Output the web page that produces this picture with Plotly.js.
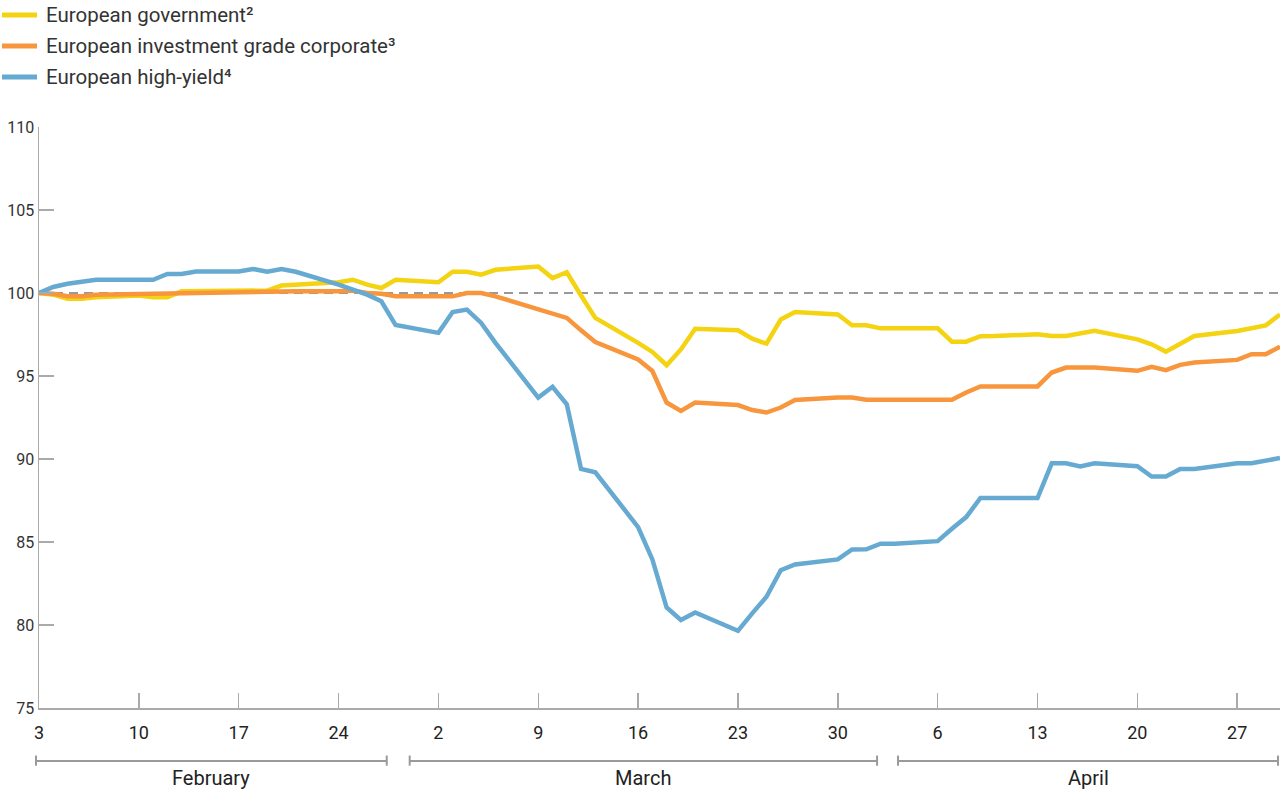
<!DOCTYPE html>
<html>
<head>
<meta charset="utf-8">
<script src="https://cdn.plot.ly/plotly-3.0.1.min.js"></script>
<style>
  html, body { margin: 0; padding: 0; background: #fff; }
  #chart { width: 1283px; height: 792px; }
</style>
</head>
<body>
<div id="chart"></div>
<script>
const dates = [
  '2020-02-03','2020-02-04','2020-02-05','2020-02-06','2020-02-07',
  '2020-02-10','2020-02-11','2020-02-12','2020-02-13','2020-02-14',
  '2020-02-17','2020-02-18','2020-02-19','2020-02-20','2020-02-21',
  '2020-02-24','2020-02-25','2020-02-26','2020-02-27','2020-02-28',
  '2020-03-02','2020-03-03','2020-03-04','2020-03-05','2020-03-06',
  '2020-03-09','2020-03-10','2020-03-11','2020-03-12','2020-03-13',
  '2020-03-16','2020-03-17','2020-03-18','2020-03-19','2020-03-20',
  '2020-03-23','2020-03-24','2020-03-25','2020-03-26','2020-03-27',
  '2020-03-30','2020-03-31','2020-04-01','2020-04-02','2020-04-03',
  '2020-04-06','2020-04-07','2020-04-08','2020-04-09','2020-04-10',
  '2020-04-13','2020-04-14','2020-04-15','2020-04-16','2020-04-17',
  '2020-04-20','2020-04-21','2020-04-22','2020-04-23','2020-04-24',
  '2020-04-27','2020-04-28','2020-04-29','2020-04-30'
];

const government = [
  100.0, 99.9, 99.65, 99.65, 99.75,
  99.85, 99.75, 99.75, 100.1, 100.1,
  100.15, 100.15, 100.15, 100.45, 100.5,
  100.65, 100.8, 100.5, 100.3, 100.8,
  100.65, 101.28, 101.28, 101.1, 101.4,
  101.6, 100.9, 101.25, 99.85, 98.5,
  97.0, 96.45, 95.65, 96.6, 97.85,
  97.75, 97.25, 96.95, 98.4, 98.85,
  98.7, 98.05, 98.05, 97.87, 97.87,
  97.87, 97.07, 97.07, 97.4, 97.41,
  97.51, 97.41, 97.41, 97.57, 97.72,
  97.21, 96.91, 96.47, 96.91, 97.41,
  97.71, 97.87, 98.05, 98.71
];

const investmentGrade = [
  100.0, 99.95, 99.8, 99.8, 99.9,
  99.95, 99.95, 99.97, 100.0, 100.0,
  100.1, 100.1, 100.1, 100.1, 100.1,
  100.1, 100.15, 100.0, 99.95, 99.8,
  99.8, 99.8, 100.0, 100.0, 99.8,
  99.0, 98.7, 98.5, 97.75, 97.05,
  96.0, 95.3, 93.4, 92.9, 93.4,
  93.25, 92.95, 92.8, 93.1, 93.55,
  93.7, 93.7, 93.57, 93.57, 93.57,
  93.57, 93.57, 94.01, 94.37, 94.37,
  94.37, 95.21, 95.51, 95.51, 95.51,
  95.31, 95.55, 95.35, 95.67, 95.81,
  95.97, 96.31, 96.31, 96.77
];

const highYield = [
  100.0, 100.36, 100.56, 100.68, 100.8,
  100.8, 100.8, 101.15, 101.15, 101.3,
  101.3, 101.45, 101.28, 101.45, 101.28,
  100.5, 100.2, 99.9, 99.5, 98.07,
  97.6, 98.85, 99.0, 98.2, 97.0,
  93.7, 94.35, 93.3, 89.4, 89.2,
  85.9, 83.95, 81.05, 80.3, 80.75,
  79.65, 80.7, 81.7, 83.3, 83.65,
  83.95, 84.55, 84.56, 84.9, 84.9,
  85.05, 85.8, 86.5, 87.65, 87.65,
  87.65, 89.74, 89.74, 89.55, 89.74,
  89.56, 88.94, 88.94, 89.4, 89.4,
  89.74, 89.74, 89.9, 90.06
];

const seriesNames = [
  'European government²',
  'European investment grade corporate³',
  'European high-yield⁴'
];
const seriesColors = ['#F3D312', '#F7963D', '#66AAD1'];

const xTickVals = ['2020-02-03','2020-02-10','2020-02-17','2020-02-24',
  '2020-03-02','2020-03-09','2020-03-16','2020-03-23','2020-03-30',
  '2020-04-06','2020-04-13','2020-04-20','2020-04-27'];
const xTickText = ['3','10','17','24','2','9','16','23','30','6','13','20','27'];

const yTickVals = [75, 80, 85, 90, 95, 100, 105, 110];
const yTickText = ['75','80','85','90','95','100','105','110'];

const months = ['February', 'March', 'April'];
const baseline = 100;

const seriesValues = [government, investmentGrade, highYield];
const traces = seriesValues.map((vals, i) => ({
  type: 'scatter',
  mode: 'lines',
  x: dates,
  y: vals,
  name: seriesNames[i],
  line: { color: seriesColors[i], width: 4.5 },
  hoverinfo: 'skip',
  showlegend: false
}));

// month brackets (paper coordinates)
const bracketSpans = [[-0.0024, 0.2802], [0.2987, 0.6753], [0.6922, 0.9984]];
const bracketY = -0.0912, bracketTop = -0.0819, bracketBot = -0.0993, labelY = -0.1205;
const gray = '#9a9a9a';

const shapes = [{
  type: 'line', xref: 'paper', yref: 'y', x0: 0, x1: 1, y0: baseline, y1: baseline,
  line: { color: '#999999', width: 2, dash: '9px,6px' }, layer: 'below'
}];
const annotations = [];
bracketSpans.forEach((s, i) => {
  shapes.push({ type: 'line', xref: 'paper', yref: 'paper', x0: s[0], x1: s[1], y0: bracketY, y1: bracketY, line: { color: gray, width: 2 } });
  shapes.push({ type: 'line', xref: 'paper', yref: 'paper', x0: s[0], x1: s[0], y0: bracketTop, y1: bracketBot, line: { color: gray, width: 2 } });
  shapes.push({ type: 'line', xref: 'paper', yref: 'paper', x0: s[1], x1: s[1], y0: bracketTop, y1: bracketBot, line: { color: gray, width: 2 } });
  annotations.push({
    xref: 'paper', yref: 'paper', x: (s[0] + s[1]) / 2, y: labelY,
    text: months[i], showarrow: false, xanchor: 'center', yanchor: 'middle',
    font: { family: 'Roboto, sans-serif', size: 20, color: '#222' }
  });
});

// legend (drawn as line swatches + labels above the plot)
const legendY = [1.1928, 1.1394, 1.086];
const swatchX0 = -0.0298, swatchX1 = -0.0016, legendTextX = 0.0041;
seriesNames.forEach((name, i) => {
  shapes.push({
    type: 'line', xref: 'paper', yref: 'paper', x0: swatchX0, x1: swatchX1,
    y0: legendY[i], y1: legendY[i],
    line: { color: seriesColors[i], width: 5 }
  });
  annotations.push({
    xref: 'paper', yref: 'paper', x: legendTextX, y: legendY[i],
    text: name, showarrow: false, xanchor: 'left', yanchor: 'middle',
    font: { family: 'Roboto, sans-serif', size: 20.5, color: '#333' }
  });
});

const layout = {
  width: 1283, height: 792,
  paper_bgcolor: '#fff', plot_bgcolor: '#fff',
  font: { family: 'Roboto, sans-serif', color: '#333' },
  margin: { l: 39, r: 3, t: 127, b: 84, autoexpand: false },
  showlegend: false,
  xaxis: {
    type: 'date',
    range: ['2020-02-03', '2020-04-30'],
    tickmode: 'array', tickvals: xTickVals, ticktext: xTickText,
    ticks: 'inside', ticklen: 15, tickwidth: 1.5, tickcolor: '#aaaaaa',
    showline: true, linecolor: '#aaaaaa', linewidth: 1.5,
    showgrid: false, zeroline: false,
    ticklabelstandoff: 8,
    tickfont: { family: 'Roboto, sans-serif', size: 18, color: '#222' }
  },
  yaxis: {
    range: [75, 110],
    tickmode: 'array', tickvals: yTickVals, ticktext: yTickText,
    ticks: 'inside', ticklen: 15, tickwidth: 1.5, tickcolor: '#aaaaaa',
    showline: true, linecolor: '#aaaaaa', linewidth: 1.5,
    showgrid: false, zeroline: false,
    tickfont: { family: 'Roboto, sans-serif', size: 16, color: '#333' }
  },
  shapes: shapes,
  annotations: annotations
};

Plotly.newPlot('chart', traces, layout, { displayModeBar: false, staticPlot: true });
</script>
</body>
</html>
